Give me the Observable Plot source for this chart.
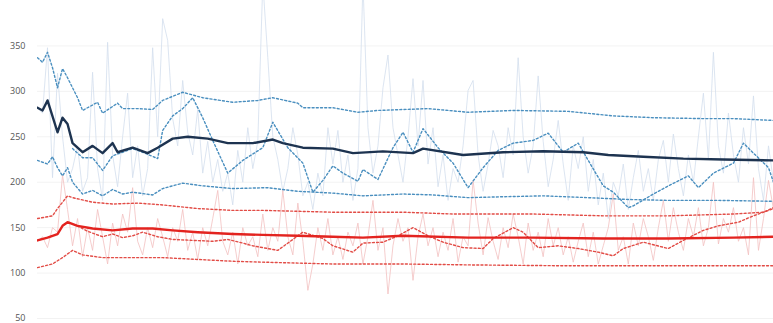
<!DOCTYPE html>
<html>
<head>
<meta charset="utf-8">
<script src="https://cdn.jsdelivr.net/npm/d3@7"></script>
<script src="https://cdn.jsdelivr.net/npm/@observablehq/plot@0.6"></script>
<style>
  html, body { margin: 0; padding: 0; background: #fff; }
  #chart svg { display: block; }
</style>
</head>
<body>
<div id="chart"></div>
<script>
// Y axis ticks
const yTicks = [50, 100, 150, 200, 250, 300, 350];

// Daily readings, one value per day (day = index)
const blueDaily = [282,276,348,205,320,250,200,215,240,190,205,321,215,180,354,230,195,250,298,205,
  240,185,215,348,250,380,356,270,240,312,255,230,280,210,245,200,225,190,210,175,
  235,200,260,215,245,420,337,250,225,190,215,260,230,185,200,170,210,185,260,220,
  257,200,230,180,215,420,260,210,240,304,340,260,230,200,250,314,240,312,220,260,
  195,230,180,215,200,240,301,312,230,190,220,257,240,205,260,230,337,250,210,240,
  317,245,195,225,268,220,180,240,215,250,190,225,175,210,160,200,185,220,170,205,
  235,190,215,180,225,246,200,253,215,185,230,200,250,298,225,343,240,210,276,230,
  200,260,220,295,215,180,240,200];
const redDaily = [135,140,128,150,145,208,170,130,160,118,150,125,170,140,110,155,130,165,145,194,
  135,120,150,128,160,140,118,150,135,170,125,145,115,150,130,160,191,135,120,145,
  110,150,130,140,118,165,125,150,135,191,140,120,177,135,81,110,150,125,160,120,
  140,115,145,130,155,110,140,180,125,150,77,130,160,135,150,92,140,165,130,150,
  118,145,125,160,112,140,130,202,155,120,161,135,115,150,128,165,140,110,155,125,
  145,118,160,130,150,120,140,112,135,155,118,145,110,130,150,187,125,140,110,155,
  130,160,140,114,150,180,135,172,145,125,160,140,172,130,150,200,132,160,145,172,
  135,150,120,205,125,160,202,170];

// Blue: running mean
const blueMeanDays = [0,1,2,4,5,6,7,9,11,13,15,16,19,22,24,27,30,34,38,43,47,49,53,59,63,69,75,77,85,93,101,109,114,121,129,137,147];
const blueMean     = [282,279,290,255,271,264,243,233,240,232,243,233,238,232,238,248,250,248,243,243,247,243,238,237,232,234,232,237,230,233,234,233,230,228,226,225,224];
// Blue: upper band
const blueUpperDays = [0,1,2,3,4,5,6,8,9,12,13,16,17,20,23,25,29,33,39,44,47,52,53,59,64,68,73,78,86,95,106,115,123,133,139,147];
const blueUpper     = [337,332,343,326,304,325,315,293,279,288,276,287,281,281,280,290,299,293,288,290,293,287,282,282,277,279,280,281,277,279,278,273,271,270,270,268];
// Blue: lower band
const blueLowerDays = [0,2,3,4,5,6,7,9,11,13,15,17,19,23,25,29,33,39,46,52,59,65,73,79,86,93,101,110,118,126,136,147];
const blueLower     = [224,220,228,216,207,216,200,187,191,185,192,187,189,186,193,199,196,193,194,190,188,185,187,186,183,184,185,183,181,180,180,179];
// Blue: moving average
const blueAvgDays = [7,9,11,13,15,17,19,21,24,25,27,29,31,33,35,38,41,45,47,50,53,55,57,59,61,64,65,68,71,73,75,77,80,83,86,89,92,95,99,102,105,108,110,113,115,118,119,123,126,130,132,135,139,141,143,146,147];
const blueAvg     = [237,227,227,213,229,233,237,233,226,257,273,281,293,271,246,210,224,238,266,238,221,189,202,218,210,201,214,203,238,255,233,259,238,221,194,216,235,243,246,254,233,243,224,196,189,172,174,187,196,207,194,210,221,243,232,216,200];

// Red: running mean
const redMeanDays = [0,2,4,5,6,8,11,15,19,23,27,32,39,45,52,59,65,73,86,99,113,126,139,147];
const redMean     = [136,139,143,152,156,152,149,147,149,149,147,145,143,142,141,140,139,141,139,139,138,138,139,140];
// Red: upper band
const redUpperDays = [0,3,4,6,7,11,15,20,25,32,39,45,52,59,66,73,83,99,113,126,139,145,147];
const redUpper     = [160,163,171,185,183,178,176,177,175,171,169,169,168,167,167,167,165,165,163,163,165,167,172];
// Red: lower band
const redLowerDays = [0,3,5,7,9,13,19,25,32,39,45,52,59,73,86,106,126,147];
const redLower     = [106,110,117,125,120,117,117,117,115,113,112,111,110,110,109,108,108,108];
// Red: moving average
const redAvgDays = [8,10,13,15,17,19,21,24,27,31,35,38,41,43,48,53,57,59,63,65,69,72,75,78,81,85,89,91,95,97,100,104,108,112,115,117,121,126,129,133,136,140,143,147];
const redAvg     = [152,146,140,143,139,141,145,140,137,136,135,137,133,130,125,145,138,130,123,133,134,141,150,141,134,128,127,138,150,145,128,130,127,123,119,127,134,127,136,147,152,156,163,171];

const pts = (days, vals) => days.map((d, i) => ({day: d, v: vals[i]}));
const daily = vals => vals.map((v, i) => ({day: i, v}));

const navy = "#1d3350";
const blueDot = "#4a8fbf";
const blueLight = "#d3dfed";
const red = "#e3231f";
const redDot = "#e24c46";
const redLight = "#f2c0c0";

const dotted = (data, color) => Plot.line(data, {
  x: "day", y: "v", stroke: color, strokeWidth: 1.4, strokeDasharray: "2,2.2", clip: true
});

const chart = Plot.plot({
  width: 773,
  height: 323,
  marginTop: 0,
  marginBottom: 5,
  marginLeft: 37,
  marginRight: 0,
  style: {fontFamily: "'Open Sans', sans-serif", fontSize: "9px", color: "#555", background: "#fff"},
  x: {domain: [0, 147], axis: null},
  y: {domain: [50, 400], ticks: yTicks, tickSize: 0, tickPadding: 12, label: null},
  marks: [
    Plot.gridY(yTicks, {stroke: "#000", strokeOpacity: 0.05}),
    Plot.line(daily(blueDaily), {x: "day", y: "v", stroke: blueLight, strokeWidth: 1, strokeOpacity: 0.8, clip: true}),
    Plot.line(daily(redDaily), {x: "day", y: "v", stroke: redLight, strokeWidth: 1, strokeOpacity: 0.8, clip: true}),
    dotted(pts(blueUpperDays, blueUpper), blueDot),
    dotted(pts(blueLowerDays, blueLower), blueDot),
    dotted(pts(blueAvgDays, blueAvg), blueDot),
    dotted(pts(redUpperDays, redUpper), redDot),
    dotted(pts(redLowerDays, redLower), redDot),
    dotted(pts(redAvgDays, redAvg), redDot),
    Plot.line(pts(blueMeanDays, blueMean), {x: "day", y: "v", stroke: navy, strokeWidth: 2.4, clip: true}),
    Plot.line(pts(redMeanDays, redMean), {x: "day", y: "v", stroke: red, strokeWidth: 2.4, clip: true})
  ]
});

document.getElementById("chart").appendChild(chart);
</script>
</body>
</html>
